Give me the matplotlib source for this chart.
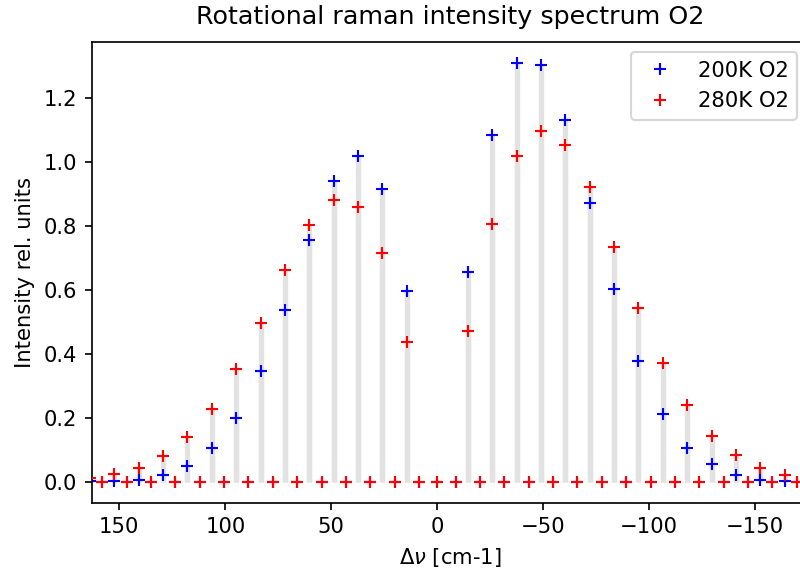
import matplotlib
matplotlib.use('Agg')
import matplotlib.pyplot as plt
import numpy as np

# Raman shift positions [cm-1], anti-stokes side (positive) and stokes side (negative)
shift_pos = [169.6, 163.9, 158.1, 152.4, 146.6, 140.9, 135.1, 129.4, 123.6, 117.9,
             112.1, 106.4, 100.6, 94.9, 89.1, 83.4, 77.6, 71.9, 66.1, 60.4,
             54.6, 48.9, 43.1, 37.4, 31.6, 25.9, 20.1, 14.4, 8.6, 0.0]
shift_neg = [-8.6, -14.4, -20.1, -25.9, -31.6, -37.4, -43.1, -48.9, -54.6, -60.4,
             -66.1, -71.9, -77.6, -83.4, -89.1, -94.9, -100.6, -106.4, -112.1, -117.9,
             -123.6, -129.4, -135.1, -140.9, -146.6, -152.4, -158.1, -163.9, -169.6]

# intensities (even J lines are zero for O2)
I200_pos = [0, 0.001, 0, 0.003, 0, 0.006, 0, 0.022, 0, 0.049,
            0, 0.106, 0, 0.198, 0, 0.345, 0, 0.536, 0, 0.756,
            0, 0.940, 0, 1.020, 0, 0.915, 0, 0.597, 0, 0]
I280_pos = [0, 0.012, 0, 0.024, 0, 0.043, 0, 0.081, 0, 0.140,
            0, 0.227, 0, 0.353, 0, 0.498, 0, 0.664, 0, 0.803,
            0, 0.881, 0, 0.861, 0, 0.716, 0, 0.438, 0, 0]
I200_neg = [0, 0.655, 0, 1.086, 0, 1.312, 0, 1.304, 0, 1.133,
            0, 0.872, 0, 0.604, 0, 0.378, 0, 0.213, 0, 0.105,
            0, 0.055, 0, 0.021, 0, 0.006, 0, 0.002, 0]
I280_neg = [0, 0.471, 0, 0.807, 0, 1.019, 0, 1.098, 0, 1.053,
            0, 0.922, 0, 0.736, 0, 0.545, 0, 0.373, 0, 0.240,
            0, 0.142, 0, 0.082, 0, 0.042, 0, 0.022, 0]

shift = np.array(shift_pos + shift_neg)
I200 = np.array(I200_pos + I200_neg)
I280 = np.array(I280_pos + I280_neg)

fig = plt.figure(figsize=(800/152, 577/152), dpi=152)
plt.subplots_adjust(left=0.115, right=1.01, bottom=0.129, top=0.9277)

plt.vlines(shift, 0, I200, color='#e2e2e2', linewidth=2.5, zorder=1)
plt.vlines(shift, 0, I280, color='#e2e2e2', linewidth=2.5, zorder=1)
plt.plot(shift, I200, 'b+', label='200K O2', zorder=2)
plt.plot(shift, I280, 'r+', label='280K O2', zorder=3)

plt.xlim(162.9, -174.9)
plt.title('Rotational raman intensity spectrum O2', pad=8.5)
plt.xlabel(r'$\Delta\nu$ [cm-1]')
plt.ylabel('Intensity rel. units')
plt.legend(loc='upper right')

plt.savefig('out.png', dpi=152)
